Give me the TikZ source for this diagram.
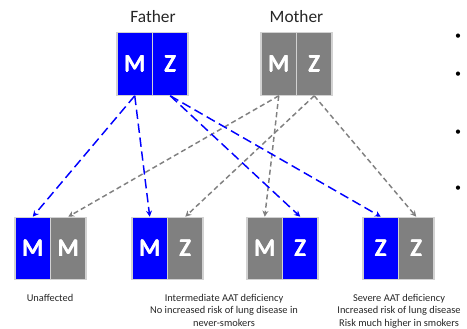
\documentclass[tikz,border=0pt]{standalone}
\usepackage{fontspec}
\setmainfont{Carlito}
\usetikzlibrary{arrows.meta}
\newcommand{\heavyletter}[1]{\leavevmode\rlap{#1}\rlap{\kern0.45pt#1}\rlap{\kern0.9pt#1}\rlap{\raisebox{0.4pt}{\kern0.45pt#1}}\rlap{\raisebox{-0.4pt}{\kern0.45pt#1}}\phantom{#1}\kern0.9pt}
\definecolor{pblue}{RGB}{0,0,255}
\definecolor{pgray}{RGB}{128,128,128}
\definecolor{pedge}{RGB}{210,210,210}
\tikzset{
  cell/.style={rectangle, draw=pedge, line width=0.9pt, minimum width=26.6pt, minimum height=46.8pt, inner sep=0pt, text=white, font=\fontsize{18.5}{21}\selectfont},
  bcell/.style={cell, fill=pblue},
  gcell/.style={cell, fill=pgray},
  barrow/.style={draw=pblue, line width=1.1pt, dash pattern=on 7pt off 3.5pt, -{Stealth[length=4.5pt,width=4.5pt]}},
  garrow/.style={draw=pgray, line width=1.1pt, dash pattern=on 3.8pt off 2.4pt, -{Stealth[length=4.5pt,width=4.5pt]}},
  parent/.style={font=\fontsize{13}{15}\selectfont, text=black!85},
  caption/.style={font=\fontsize{7.8}{9.4}\selectfont, align=center, text=black!85, anchor=north},
  bul/.style={font=\fontsize{9}{10}\selectfont}
}
\begin{document}
\begin{tikzpicture}[x=0.75pt,y=-0.75pt]
\useasboundingbox (0,0) rectangle (467,328);
% parents
\node[parent] (fat) at (153,17) {Father};
\node[parent] (mot) at (296.5,17) {Mother};
\node[bcell] (fm) at (134.75,64) {\heavyletter{M}};
\node[bcell] (fz) at (170.25,64) {\heavyletter{Z}};
\node[gcell] (mm) at (278.75,64) {\heavyletter{M}};
\node[gcell] (mz) at (314.25,64) {\heavyletter{Z}};
% children
\node[bcell] (a1) at (32.75,248.5) {\heavyletter{M}};
\node[gcell] (a2) at (68.25,248.5) {\heavyletter{M}};
\node[bcell] (b1) at (149.75,248.5) {\heavyletter{M}};
\node[gcell] (b2) at (185.25,248.5) {\heavyletter{Z}};
\node[gcell] (c1) at (264.75,248.5) {\heavyletter{M}};
\node[bcell] (c2) at (300.25,248.5) {\heavyletter{Z}};
\node[bcell] (d1) at (380.75,248.5) {\heavyletter{Z}};
\node[gcell] (d2) at (416.25,248.5) {\heavyletter{Z}};
% arrows
\draw[garrow] (mm.south) -- (a2.north);
\draw[garrow] (mm.south) -- (c1.north);
\draw[garrow] (mz.south) -- (b2.north);
\draw[garrow] (mz.south) -- (d2.north);
\draw[barrow] (fm.south) -- (a1.north);
\draw[barrow] (fm.south) -- (b1.north);
\draw[barrow] (fz.south) -- (c2.north);
\draw[barrow] (fz.south) -- (d1.north);
% captions
\node[caption] (ca) at (50,289.5) {Unaffected};
\node[caption] (cb) at (224,289.5) {Intermediate AAT deficiency\\No increased risk of lung disease in\\never-smokers};
\node[caption] (cc) at (399,289.5) {Severe AAT deficiency\\Increased risk of lung disease\\Risk much higher in smokers};
% bullets
\node[bul] (u1) at (458,37) {\textbullet};
\node[bul] (u2) at (458,75) {\textbullet};
\node[bul] (u3) at (458,133) {\textbullet};
\node[bul] (u4) at (458,189) {\textbullet};
\end{tikzpicture}
\end{document}
